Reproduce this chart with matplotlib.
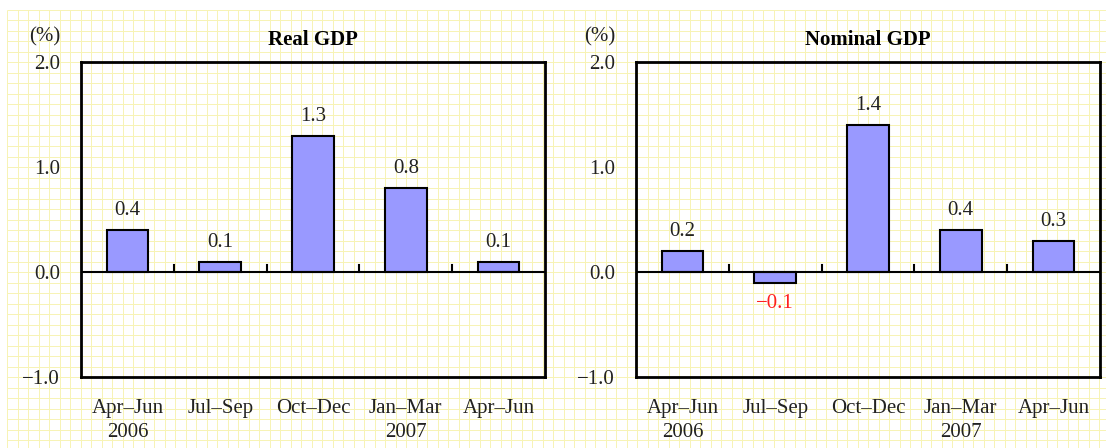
import numpy as np
import matplotlib.pyplot as plt

plt.rcParams['font.family'] = ['Liberation Serif', 'DejaVu Serif']

quarters = ['Apr–Jun\n2006', 'Jul–Sep', 'Oct–Dec', 'Jan–Mar\n2007', 'Apr–Jun']
real_gdp = [0.4, 0.1, 1.3, 0.8, 0.1]
nominal_gdp = [0.2, -0.1, 1.4, 0.4, 0.3]
titles = ['Real GDP', 'Nominal GDP']

W, H = 1106, 448
fs = 15
fig = plt.figure(figsize=(W / 100, H / 100), dpi=100)
fig.patch.set_facecolor('white')

# yellow graph-paper background
bg = fig.add_axes([7 / W, 0, 1 - 7 / W, 1 - 10 / H], zorder=-5)
bg.set_facecolor('#FFFFCC')
bg.set_xlim(0, W - 7)
bg.set_ylim(H - 10, 0)
step = 10.5
bg.vlines(np.arange(0, W, step), 0, H, color='#F7F3B4', lw=0.7)
bg.hlines(np.arange(0, H, step), 0, W, color='#F7F3B4', lw=0.7)
bg.axis('off')

lefts = [81, 636]
for left, title, vals in zip(lefts, titles, [real_gdp, nominal_gdp]):
    ax = fig.add_axes([left / W, 1 - 377 / H, 464 / W, 315 / H])
    ax.patch.set_alpha(0)
    x = np.arange(len(vals))
    ax.bar(x, vals, width=0.45, color='#9999FF', edgecolor='black', lw=1.5, zorder=3)
    ax.set_xlim(-0.5, len(vals) - 0.5)
    ax.set_ylim(-1, 2)
    ax.set_yticks([-1, 0, 1, 2])
    ax.set_yticklabels(['−1.0', '0.0', '1.0', '2.0'])
    ax.tick_params(axis='y', length=0, pad=15, labelsize=fs, colors='#222222')
    ax.set_xticks(x)
    ax.set_xticklabels(quarters, fontsize=fs, linespacing=1.35, color='#222222')
    ax.tick_params(axis='x', length=0, pad=16)
    for s in ax.spines.values():
        s.set_linewidth(2)
    # zero line with small ticks between categories
    ax.axhline(0, color='black', lw=1.5, zorder=4)
    for b in np.arange(0.5, len(vals) - 0.5):
        ax.plot([b, b], [0, 0.065], color='black', lw=1.5, zorder=4)
    for xi, v in zip(x, vals):
        if v >= 0:
            ax.annotate(f'{v:.1f}', (xi, v), xytext=(0, 7), textcoords='offset points',
                        ha='center', va='bottom', fontsize=fs, color='#222222')
        else:
            ax.annotate(f'−{abs(v):.1f}', (xi, v), xytext=(0, -8), textcoords='offset points',
                        ha='center', va='top', fontsize=fs, color='#FF2020')
    ax.text(-0.078, 1.05, '(%)', transform=ax.transAxes, ha='center', va='bottom',
            fontsize=fs, color='#222222')
    ax.set_title(title, fontsize=fs, fontweight='bold', pad=12)

fig.savefig('out.png', dpi=100)
